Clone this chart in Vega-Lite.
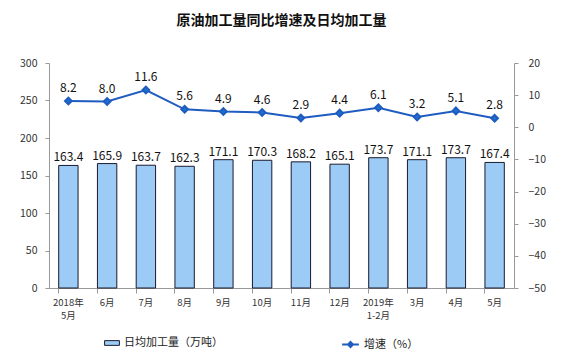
{
  "$schema": "https://vega.github.io/schema/vega-lite/v6.json",
  "autosize": "none",
  "width": 465,
  "height": 225,
  "padding": {"left": 49, "top": 63, "right": 48, "bottom": 70},
  "background": "white",
  "title": {"text": "原油加工量同比增速及日均加工量", "fontSize": 14, "fontWeight": "bold", "font": "Noto Sans CJK SC", "color": "#111", "offset": 30, "anchor": "middle"},
  "config": {
    "view": {"stroke": null},
    "font": "Noto Sans CJK SC",
    "axis": {"grid": false, "labelFont": "Noto Sans CJK SC", "labelFontSize": 11, "labelColor": "#333", "domainColor": "#999", "tickColor": "#999", "titleFontSize": 11, "labelOverlap": false}
  },
  "data": {"values": [
    {"m": "2018年|5月", "v": 163.4, "g": 8.2},
    {"m": "6月", "v": 165.9, "g": 8.0},
    {"m": "7月", "v": 163.7, "g": 11.6},
    {"m": "8月", "v": 162.3, "g": 5.6},
    {"m": "9月", "v": 171.1, "g": 4.9},
    {"m": "10月", "v": 170.3, "g": 4.6},
    {"m": "11月", "v": 168.2, "g": 2.9},
    {"m": "12月", "v": 165.1, "g": 4.4},
    {"m": "2019年|1-2月", "v": 173.7, "g": 6.1},
    {"m": "3月", "v": 171.1, "g": 3.2},
    {"m": "4月", "v": 173.7, "g": 5.1},
    {"m": "5月", "v": 167.4, "g": 2.8}
  ]},
  "encoding": {
    "x": {"field": "m", "type": "nominal", "sort": null, "title": null,
      "scale": {"paddingInner": 0.5, "paddingOuter": 0.25},
      "axis": {"labelAngle": 0, "labelExpr": "split(datum.label, '|')", "bandPosition": 0, "tickSize": 5, "labelPadding": 4, "labelFontSize": 9.5, "labelLineHeight": 13}}
  },
  "resolve": {"scale": {"y": "independent"}},
  "layer": [
    {
      "mark": {"type": "bar", "stroke": "#1a1a2e", "strokeWidth": 1},
      "encoding": {
        "y": {"field": "v", "type": "quantitative", "scale": {"domain": [0, 300]}, "title": null,
          "axis": {"values": [0, 50, 100, 150, 200, 250, 300], "tickSize": 4, "labelPadding": 8, "labelFontSize": 10.5}},
        "fill": {"datum": "日均加工量（万吨）", "type": "nominal", "scale": {"range": ["#9CCBF5"]},
          "legend": {"title": null, "orient": "none", "legendX": 55, "legendY": 272, "symbolType": "M-1,-0.32H1V0.32H-1Z", "symbolSize": 220, "symbolStrokeColor": "#1a1a2e", "symbolStrokeWidth": 1, "labelFontSize": 11, "labelColor": "#222"}}
      }
    },
    {
      "mark": {"type": "text", "dy": -8, "fontSize": 12, "color": "#111"},
      "encoding": {
        "y": {"field": "v", "type": "quantitative", "scale": {"domain": [0, 300]}, "axis": null},
        "text": {"field": "v", "type": "quantitative", "format": ".1f"}
      }
    },
    {
      "mark": {"type": "line", "strokeWidth": 2, "color": "#1F5CC0", "point": {"shape": "diamond", "size": 45, "filled": true, "color": "#1F6FD0"}},
      "encoding": {
        "y": {"field": "g", "type": "quantitative", "scale": {"domain": [-50, 20]}, "title": null,
          "axis": {"orient": "right", "values": [-50, -40, -30, -20, -10, 0, 10, 20], "tickSize": 4, "labelPadding": 10, "labelFontSize": 10.5}},
        "stroke": {"datum": "增速（%）", "type": "nominal", "scale": {"range": ["#1F5CC0"]},
          "legend": {"title": null, "orient": "none", "legendX": 292, "legendY": 272, "symbolType": "M-1,0H1M0,-0.3L0.3,0L0,0.3L-0.3,0Z", "symbolSize": 280, "symbolStrokeWidth": 2, "symbolFillColor": "#1F6FD0", "labelFontSize": 11, "labelColor": "#222"}}
      }
    },
    {
      "mark": {"type": "text", "dy": -13, "fontSize": 12, "color": "#111"},
      "encoding": {
        "y": {"field": "g", "type": "quantitative", "scale": {"domain": [-50, 20]}, "axis": null},
        "text": {"field": "g", "type": "quantitative", "format": ".1f"}
      }
    }
  ]
}
